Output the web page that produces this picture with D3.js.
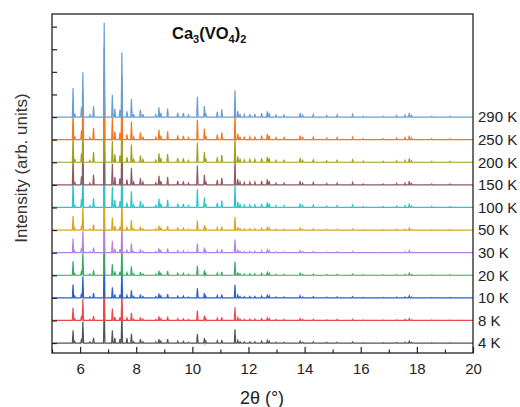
<!DOCTYPE html>
<html>
<head>
<meta charset="utf-8">
<script src="https://cdn.jsdelivr.net/npm/d3@7"></script>
<style>
  body { margin: 0; background: #fff; }
  svg { font-family: Arial, "Liberation Sans", sans-serif; }
</style>
</head>
<body>
<div id="chart"></div>
<script>
// series labels, bottom to top
var temps = ["4 K", "8 K", "10 K", "20 K", "30 K", "50 K", "100 K", "150 K", "200 K", "250 K", "290 K"];
var colors = ["#555555", "#e84a4a", "#2c5fcc", "#39a864", "#b284e0", "#d6a81e", "#2ec4c8", "#8e5a63", "#a0a01e", "#f4771f", "#6b9dd4"];

// peak positions (2theta, deg)
var peakPos = [5.75, 5.81, 6.05, 6.10, 6.35, 6.48, 6.86, 7.15, 7.24, 7.42,
    7.49, 7.67, 7.83, 7.91, 8.15, 8.24, 8.70, 8.81, 8.88, 9.12,
    9.48, 9.68, 9.86, 10.18, 10.43, 10.48, 10.89, 11.05, 11.52, 11.62,
    11.70, 11.85, 12.05, 12.23, 12.47, 12.67, 12.74, 12.98, 13.27, 13.84,
    13.93, 14.31, 14.79, 15.16, 15.71, 16.09, 16.80, 17.28, 17.58, 17.73,
    17.81, 18.53, 19.18];

// peak heights per temperature (arb. units, curve spacing = 100)
var h4 = [56, 7, 19, 95, 5, 23, 195, 56, 22, 18,
    135, 22, 41, 6, 18, 6, 5, 18, 8, 18,
    8, 7, 4, 40, 22, 8, 10, 14, 61, 12,
    6, 5, 6, 6, 8, 11, 8, 4, 4, 8,
    4, 5, 3, 4, 5, 2, 2, 3, 4, 8,
    3, 2, 2];
var h8 = [56, 7, 19, 96, 5, 19, 195, 53, 16, 14,
    136, 11, 34, 6, 14, 6, 5, 18, 8, 17,
    8, 7, 4, 44, 21, 8, 10, 14, 58, 12,
    6, 5, 6, 6, 8, 11, 8, 4, 4, 8,
    4, 5, 3, 4, 5, 2, 2, 3, 4, 8,
    3, 2, 2];
var h10 = [59, 7, 19, 96, 5, 21, 195, 47, 16, 14,
    136, 11, 33, 6, 14, 6, 5, 19, 9, 17,
    8, 8, 4, 42, 21, 8, 10, 14, 58, 12,
    6, 5, 6, 6, 8, 11, 9, 4, 4, 9,
    4, 5, 3, 4, 5, 2, 2, 3, 4, 9,
    3, 2, 2];
var h20 = [62, 7, 20, 98, 5, 22, 198, 48, 17, 15,
    138, 11, 40, 6, 14, 6, 5, 19, 9, 18,
    9, 8, 4, 42, 22, 8, 10, 15, 60, 13,
    6, 5, 6, 6, 8, 12, 9, 4, 4, 9,
    4, 5, 3, 4, 5, 2, 2, 3, 4, 9,
    3, 2, 2];
var h30 = [62, 7, 20, 98, 5, 22, 198, 52, 17, 15,
    138, 11, 40, 6, 14, 6, 5, 19, 9, 18,
    9, 8, 4, 40, 22, 8, 10, 15, 58, 13,
    6, 5, 6, 6, 8, 12, 9, 4, 4, 9,
    4, 5, 3, 4, 5, 2, 2, 3, 4, 9,
    3, 2, 2];
var h50 = [62, 8, 20, 100, 5, 24, 200, 55, 18, 15,
    140, 12, 44, 6, 15, 6, 5, 20, 9, 18,
    9, 8, 4, 42, 22, 8, 11, 15, 58, 13,
    6, 5, 6, 6, 8, 12, 9, 4, 4, 9,
    4, 5, 3, 4, 5, 2, 2, 3, 4, 9,
    3, 2, 2];
var h100 = [118, 13, 36, 185, 8, 40, 390, 92, 33, 28,
    265, 22, 72, 11, 29, 12, 9, 38, 17, 34,
    17, 16, 8, 82, 44, 16, 20, 30, 100, 25,
    12, 10, 11, 11, 16, 23, 17, 8, 8, 17,
    8, 10, 6, 8, 10, 4, 4, 6, 8, 17,
    6, 4, 4];
var h150 = [120, 13, 38, 188, 8, 44, 395, 93, 34, 29,
    270, 23, 76, 12, 30, 12, 9, 40, 17, 35,
    18, 16, 8, 85, 45, 16, 21, 31, 112, 26,
    12, 10, 12, 12, 17, 24, 17, 8, 8, 17,
    8, 10, 6, 8, 10, 4, 4, 6, 8, 17,
    6, 4, 4];
var h200 = [122, 14, 40, 190, 8, 45, 400, 95, 35, 30,
    275, 23, 78, 12, 30, 12, 9, 40, 18, 36,
    18, 17, 8, 86, 46, 17, 22, 32, 114, 26,
    12, 10, 12, 12, 17, 24, 18, 8, 8, 18,
    8, 10, 6, 8, 10, 4, 4, 6, 8, 17,
    6, 4, 4];
var h250 = [125, 14, 40, 195, 9, 52, 410, 97, 36, 30,
    280, 24, 80, 12, 32, 13, 10, 44, 18, 37,
    19, 17, 9, 88, 48, 17, 22, 33, 117, 27,
    13, 11, 12, 13, 18, 26, 18, 9, 9, 18,
    9, 11, 7, 9, 10, 4, 4, 7, 9, 18,
    7, 4, 4];
var h290 = [128, 15, 43, 198, 9, 49, 417, 99, 37, 32,
    286, 25, 81, 13, 32, 13, 10, 43, 19, 38,
    19, 18, 9, 90, 49, 18, 23, 34, 119, 28,
    13, 11, 13, 13, 18, 25, 19, 9, 9, 19,
    9, 11, 7, 9, 11, 4, 4, 7, 9, 19,
    7, 4, 4];

var heights = [h4, h8, h10, h20, h30, h50, h100, h150, h200, h250, h290];
var offsetStep = 100;
var xTicks = [6, 8, 10, 12, 14, 16, 18, 20];
var xMinor = [5, 7, 9, 11, 13, 15, 17, 19];
var yTicks = d3.range(0, 1401, 100);

function go() {
    var width = 520, height = 407;
    var left = 52, right = 473, top = 14, bottom = 353;

    var svg = d3.select("#chart").append("svg")
        .attr("width", width)
        .attr("height", height);

    var x = d3.scaleLinear().domain([5, 20]).range([left, right]);
    var y = d3.scaleLinear().domain([-44, 1456]).range([bottom, top]);

    var line = d3.line()
        .x(function (d) { return x(d[0]); })
        .y(function (d) { return y(d[1]); });

    var hw = 0.025; // half width of a peak in degrees

    temps.forEach(function (t, i) {
        var base = i * offsetStep;
        var pts = [[5, base]];
        peakPos.forEach(function (p, k) {
            pts.push([p - hw, base]);
            pts.push([p, base + heights[i][k]]);
            pts.push([p + hw, base]);
        });
        pts.push([20, base]);

        svg.append("path")
            .attr("d", line(pts))
            .attr("fill", "none")
            .attr("stroke", colors[i])
            .attr("stroke-width", 1.2)
            .attr("stroke-linejoin", "miter");

        svg.append("text")
            .attr("x", 478)
            .attr("y", y(base))
            .attr("dy", "0.36em")
            .attr("font-size", 15)
            .attr("fill", "#222")
            .text(t);
    });

    // axes, ticks pointing inward
    svg.append("g")
        .attr("transform", "translate(0," + bottom + ")")
        .call(d3.axisBottom(x).tickValues(xTicks).tickSize(-6).tickPadding(10).tickFormat(d3.format("d")))
        .call(function (g) {
            g.select(".domain").remove();
            g.selectAll("line").attr("stroke", "#222").attr("stroke-width", 1.2);
            g.selectAll("text").attr("font-size", 15).attr("fill", "#222").attr("font-family", "Arial, 'Liberation Sans', sans-serif");
        });

    svg.append("g")
        .attr("transform", "translate(0," + bottom + ")")
        .call(d3.axisBottom(x).tickValues(xMinor).tickSize(-3.5).tickFormat(""))
        .call(function (g) {
            g.select(".domain").remove();
            g.selectAll("line").attr("stroke", "#222").attr("stroke-width", 1.2);
        });

    svg.append("g")
        .attr("transform", "translate(" + left + ",0)")
        .call(d3.axisLeft(y).tickValues(yTicks).tickSize(-5).tickFormat(""))
        .call(function (g) {
            g.select(".domain").remove();
            g.selectAll("line").attr("stroke", "#222").attr("stroke-width", 1.2);
        });

    svg.append("rect")
        .attr("x", left)
        .attr("y", top)
        .attr("width", right - left)
        .attr("height", bottom - top)
        .attr("fill", "none")
        .attr("stroke", "#222")
        .attr("stroke-width", 1.3);

    // title
    var title = svg.append("text")
        .attr("x", 172)
        .attr("y", 39)
        .attr("font-size", 16.5)
        .attr("font-weight", "bold")
        .attr("fill", "#111");
    title.append("tspan").text("Ca");
    title.append("tspan").attr("font-size", 11).attr("dy", 4).text("3");
    title.append("tspan").attr("dy", -4).text("(VO");
    title.append("tspan").attr("font-size", 11).attr("dy", 4).text("4");
    title.append("tspan").attr("dy", -4).text(")");
    title.append("tspan").attr("font-size", 11).attr("dy", 4).text("2");

    svg.append("text")
        .attr("x", 262)
        .attr("y", 404)
        .attr("text-anchor", "middle")
        .attr("font-size", 18)
        .attr("fill", "#222")
        .text("2θ (°)");

    svg.append("text")
        .attr("transform", "translate(27,168) rotate(-90)")
        .attr("text-anchor", "middle")
        .attr("font-size", 17)
        .attr("fill", "#333")
        .text("Intensity (arb. units)");
}

document.addEventListener("DOMContentLoaded", function () {
    go();
});
</script>
</body>
</html>
